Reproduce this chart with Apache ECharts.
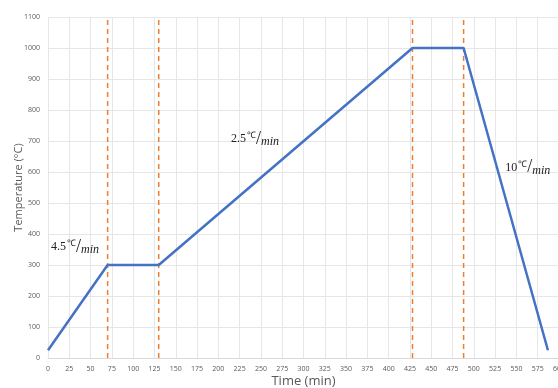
<!DOCTYPE html>
<html><head><meta charset="utf-8">
<script src="https://cdn.jsdelivr.net/npm/echarts@6/dist/echarts.min.js"></script>
<style>html,body{margin:0;padding:0;background:#fff}#c{width:558px;height:388px}</style>
</head><body><div id="c"></div>
<script>
const profileTime = [0, 70, 130, 428, 488, 587];
const profileTemp = [25, 300, 300, 1000, 1000, 25];
const dashedTimes = [70, 130, 428, 488];
const dashedRange = [0, 1090];
const rateLabels = [
  {x: 3.5, y: 362, rate: '4.5'},
  {x: 215, y: 710, rate: '2.5'},
  {x: 537, y: 617, rate: '10'}
];
const xTicks = {min: 0, max: 600, interval: 25};
const yTicks = {min: 0, max: 1100, interval: 100};

const chart = echarts.init(document.getElementById('c'));
const series = [];
dashedTimes.forEach(t => {
  series.push({
    type: 'line', data: dashedRange.map(v => [t, v]), symbol: 'none', silent: true,
    lineStyle: {color: '#ED7D31', width: 1.5, type: [5, 4]}, z: 2
  });
});
series.push({
  type: 'line', data: profileTime.map((t, i) => [t, profileTemp[i]]), symbol: 'none',
  lineStyle: {color: '#4472C4', width: 2.5}, z: 3
});
series.push({
  type: 'scatter', data: [], symbolSize: 0,
  markPoint: {
    symbol: 'circle', symbolSize: 0, silent: true,
    data: rateLabels.map(l => ({
      coord: [l.x, l.y],
      label: {
        show: true, position: 'right', distance: 0,
        formatter: '{n|' + l.rate + '}{u|℃}{s|/}{m|min}',
        rich: {
          n: {fontFamily: 'Liberation Serif', fontSize: 12, color: '#222', verticalAlign: 'bottom', lineHeight: 20, padding: [0, 1, 3, 0]},
          u: {fontFamily: 'Liberation Serif', fontSize: 9, color: '#222', verticalAlign: 'bottom', lineHeight: 20, padding: [0, 0, 8, 0]},
          s: {fontFamily: 'Liberation Serif', fontSize: 18, color: '#222', verticalAlign: 'bottom', lineHeight: 20, padding: [0, 0, 0, 0]},
          m: {fontFamily: 'Liberation Serif', fontStyle: 'italic', fontSize: 12, color: '#222', verticalAlign: 'bottom', lineHeight: 20, padding: [0, 0, 0, 0]}
        }
      }
    }))
  }
});

chart.setOption({
  animation: false,
  grid: {left: 48, right: -1, top: 17, bottom: 30, containLabel: false, outerBoundsMode: 'none'},
  xAxis: {
    type: 'value', min: xTicks.min, max: xTicks.max, interval: xTicks.interval,
    name: 'Time (min)', nameLocation: 'middle', nameGap: 17, nameMoveOverlap: false,
    nameTextStyle: {fontFamily: 'Open Sans', fontSize: 13, color: '#595959'},
    axisLine: {show: true, lineStyle: {color: '#d9d9d9'}},
    axisTick: {show: false},
    axisLabel: {fontFamily: 'Open Sans', fontSize: 7, color: '#595959', margin: 7, formatter: v => String(v)},
    splitLine: {show: true, lineStyle: {color: '#e6e6e6'}}
  },
  yAxis: {
    type: 'value', min: yTicks.min, max: yTicks.max, interval: yTicks.interval,
    name: 'Temperature (°C)', nameLocation: 'middle', nameGap: 24, nameMoveOverlap: false,
    nameTextStyle: {fontFamily: 'Open Sans', fontSize: 11, color: '#595959'},
    axisLine: {show: false}, axisTick: {show: false},
    axisLabel: {fontFamily: 'Open Sans', fontSize: 7, color: '#595959', margin: 8, formatter: v => String(v)},
    splitLine: {show: true, lineStyle: {color: '#e6e6e6'}}
  },
  series: series
});
</script></body></html>
